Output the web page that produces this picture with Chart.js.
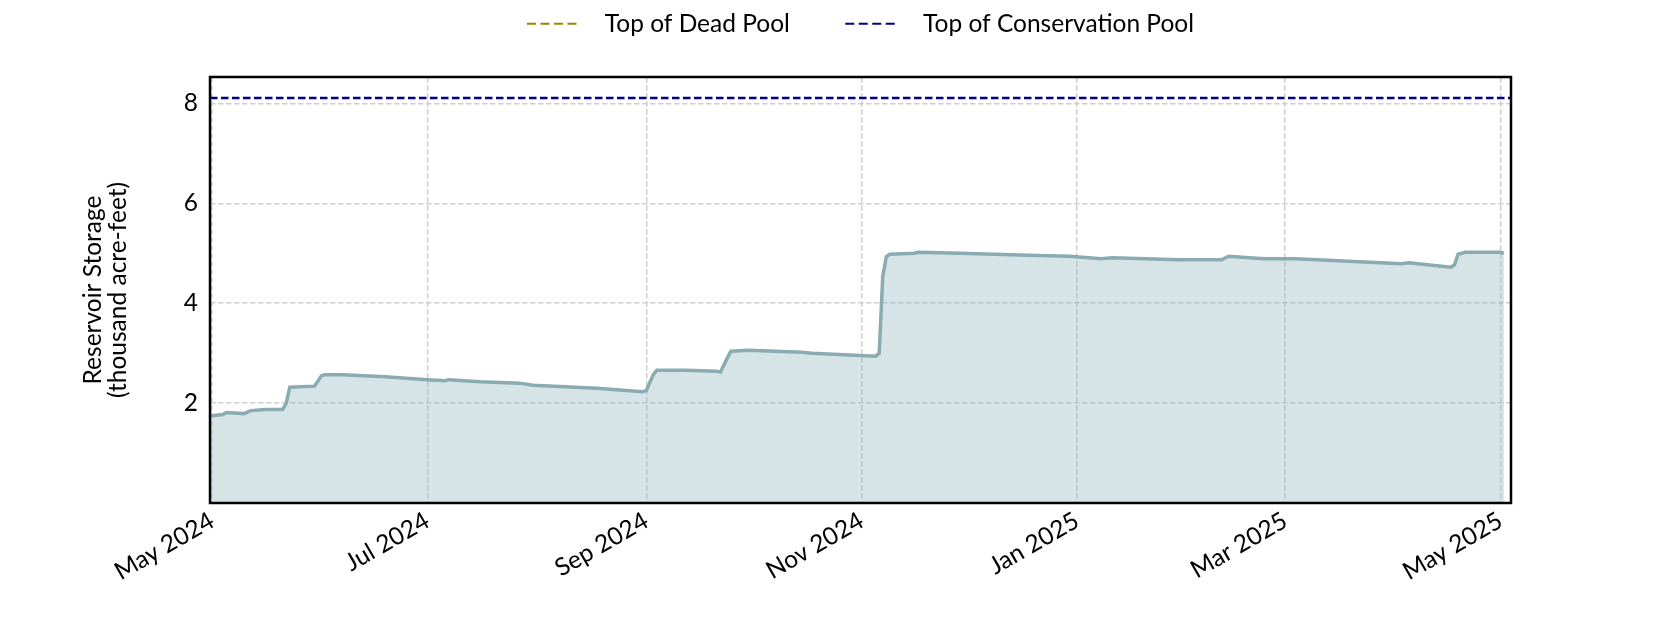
<!DOCTYPE html>
<html>
<head>
<meta charset="utf-8">
<script src="https://cdn.jsdelivr.net/npm/chart.js@4.4.1/dist/chart.umd.min.js"></script>
<style>
  html, body { margin: 0; padding: 0; background: #fff; }
  #wrap { width: 1680px; height: 630px; }
</style>
</head>
<body>
<div id="wrap"><canvas id="chart" width="1680" height="630"></canvas></div>
<script>
// storage readings (thousand acre-feet)
const dates = [
  '2024-04-30', '2024-05-04', '2024-05-05', '2024-05-10', '2024-05-12', '2024-05-16',
  '2024-05-21', '2024-05-22', '2024-05-23', '2024-05-30', '2024-06-01', '2024-06-02',
  '2024-06-07', '2024-06-19', '2024-07-01', '2024-07-06', '2024-07-07', '2024-07-16',
  '2024-07-27', '2024-07-31', '2024-08-06', '2024-08-18', '2024-08-31', '2024-09-01',
  '2024-09-03', '2024-09-04', '2024-09-12', '2024-09-21', '2024-09-22', '2024-09-24',
  '2024-09-25', '2024-09-30', '2024-10-15', '2024-10-18', '2024-10-30', '2024-11-05',
  '2024-11-06', '2024-11-07', '2024-11-08', '2024-11-09', '2024-11-16', '2024-11-17',
  '2024-11-29', '2024-12-18', '2024-12-30', '2025-01-08', '2025-01-11', '2025-01-30',
  '2025-02-11', '2025-02-13', '2025-02-23', '2025-03-04', '2025-03-16', '2025-04-03',
  '2025-04-05', '2025-04-17', '2025-04-18', '2025-04-19', '2025-04-21', '2025-05-01',
  '2025-05-02'
];
const storage = [
  1.74, 1.77, 1.81, 1.79, 1.85, 1.87,
  1.87, 2.00, 2.32, 2.34, 2.55, 2.57,
  2.57, 2.53, 2.47, 2.45, 2.47, 2.43,
  2.40, 2.36, 2.34, 2.30, 2.23, 2.25,
  2.57, 2.66, 2.66, 2.64, 2.62, 2.91,
  3.04, 3.06, 3.02, 3.00, 2.96, 2.94,
  3.00, 4.53, 4.93, 4.98, 5.00, 5.02,
  5.00, 4.96, 4.94, 4.89, 4.91, 4.87,
  4.87, 4.94, 4.89, 4.89, 4.85, 4.79,
  4.81, 4.72, 4.77, 4.98, 5.02, 5.02,
  5.00
];

const deadPool = 0;
const conservationPool = 8.11;

const tickDates = ['2024-05-01', '2024-07-01', '2024-09-01', '2024-11-01', '2025-01-01', '2025-03-01', '2025-05-01'];
const tickLabels = ['May 2024', 'Jul 2024', 'Sep 2024', 'Nov 2024', 'Jan 2025', 'Mar 2025', 'May 2025'];
const yTicks = [2, 4, 6, 8];

// days since 2024-05-01, used as the x value
const start = Date.UTC(2024, 4, 1);
const toDay = s => {
  const [y, m, d] = s.split('-').map(Number);
  return (Date.UTC(y, m - 1, d) - start) / 86400000;
};

const xMin = -0.6, xMax = 368;
const storagePts = dates.map((d, i) => ({ x: toDay(d), y: storage[i] }));
const flat = v => [{ x: xMin, y: v }, { x: xMax, y: v }];

const FS = 24.5;
Chart.defaults.font.family = 'Lato, "Noto Sans", sans-serif';
Chart.defaults.color = '#000';

const frame = {
  id: 'frame',
  afterDatasetsDraw(chart) {
    const { ctx, chartArea: a } = chart;
    ctx.save();
    ctx.strokeStyle = '#000';
    ctx.lineWidth = 2.5;
    ctx.strokeRect(a.left, a.top, a.right - a.left, a.bottom - a.top);
    ctx.restore();
  }
};

const ctx = document.getElementById('chart');
new Chart(ctx, {
  type: 'line',
  data: {
    datasets: [
      {
        label: 'Storage',
        data: storagePts,
        borderColor: '#89abb1',
        backgroundColor: 'rgba(140,178,186,0.35)',
        borderWidth: 3.5,
        fill: 'origin',
        pointRadius: 0,
        tension: 0
      },
      {
        label: 'Top of Dead Pool',
        data: flat(deadPool),
        borderColor: '#8f8c00',
        borderWidth: 2,
        borderDash: [7, 3.5],
        pointRadius: 0,
        pointStyle: 'line',
        fill: false
      },
      {
        label: 'Top of Conservation Pool',
        data: flat(conservationPool),
        borderColor: '#00008b',
        borderWidth: 2.5,
        borderDash: [7.5, 3.5],
        pointRadius: 0,
        pointStyle: 'line',
        fill: false
      }
    ]
  },
  options: {
    responsive: false,
    animation: false,
    layout: { padding: { left: 0, right: 169, top: 0, bottom: 0 } },
    plugins: {
      tooltip: { enabled: false },
      legend: {
        position: 'top',
        fullSize: false,
        labels: {
          usePointStyle: true,
          pointStyle: 'line',
          pointStyleWidth: 53,
          padding: 11.5,
          font: { size: FS },
          filter: item => item.text !== 'Storage',
          generateLabels(chart) {
            const items = Chart.defaults.plugins.legend.labels.generateLabels(chart);
            items.forEach(it => {
              const ds = chart.data.datasets[it.datasetIndex];
              it.lineWidth = 2.2;
              it.strokeStyle = ds.borderColor;
              it.lineDash = [9, 4.5];
              if (it.text === 'Top of Dead Pool') it.text = '  ' + it.text + '       ';
              else if (it.text !== 'Storage') it.text = '  ' + it.text;
            });
            return items;
          }
        }
      }
    },
    scales: {
      x: {
        type: 'linear',
        position: 'bottom',
        min: xMin,
        max: xMax,
        afterBuildTicks: s => { s.ticks = tickDates.map(d => ({ value: toDay(d) })); },
        afterFit: s => { s.height = 127; },
        ticks: {
          autoSkip: false,
          minRotation: 30,
          maxRotation: 30,
          padding: 3,
          font: { size: FS },
          callback: (v, i) => tickLabels[i]
        },
        grid: { color: '#cfcfcf', lineWidth: 1.5, drawTicks: false },
        border: { display: false, dash: [5.5, 2.5] }
      },
      xTop: {
        type: 'linear',
        position: 'top',
        display: true,
        afterFit: s => { s.height = 31; },
        ticks: { display: false },
        grid: { display: false },
        border: { display: false }
      },
      y: {
        min: 0,
        max: 8.53,
        afterBuildTicks: s => { s.ticks = yTicks.map(v => ({ value: v })); },
        afterFit: s => { s.width = 210; },
        ticks: {
          padding: 12,
          font: { size: FS },
          callback: v => String(v)
        },
        grid: { color: '#cfcfcf', lineWidth: 1.5, drawTicks: false },
        border: { display: false, dash: [5.5, 2.5] },
        title: {
          display: true,
          text: ['Reservoir Storage', '(thousand acre-feet)'],
          font: { size: FS, lineHeight: 1.0 },
          padding: { top: 81, bottom: 0 }
        }
      }
    }
  },
  plugins: [frame]
});
</script>
</body>
</html>
